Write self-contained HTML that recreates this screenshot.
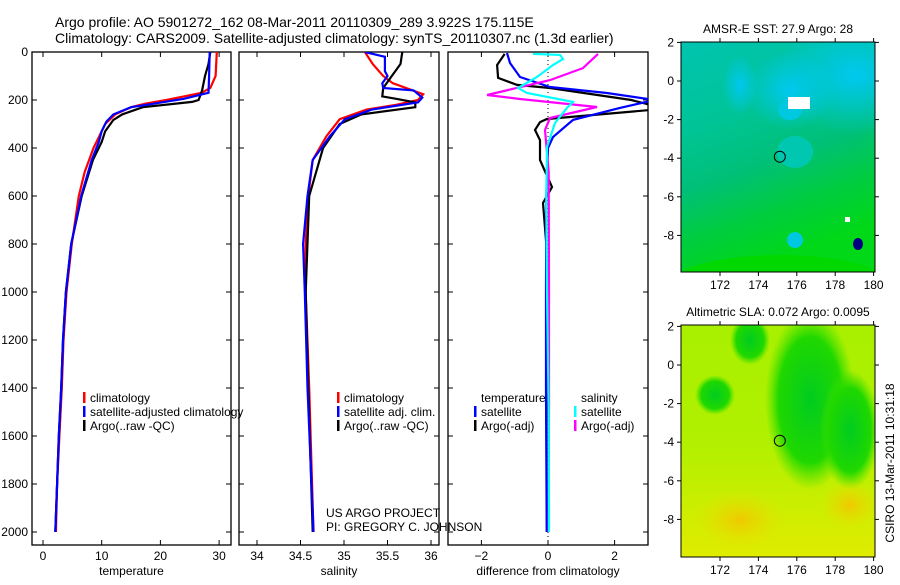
<!DOCTYPE html>
<html><head><meta charset="utf-8"><style>
body{margin:0;background:#fff}
svg text{font-family:"Liberation Sans",sans-serif;fill:#000}
</style></head><body>
<svg id="s" width="900" height="580" viewBox="0 0 900 580">
<defs>
<linearGradient id="sstg" x1="0" y1="0" x2="0.3" y2="1">
<stop offset="0" stop-color="#00c4b0"/><stop offset="0.35" stop-color="#00c498"/><stop offset="0.6" stop-color="#00c078"/><stop offset="0.8" stop-color="#00cc40"/><stop offset="1" stop-color="#00d818"/></linearGradient>
<radialGradient id="cyanblob" cx="0.5" cy="0.5" r="0.5"><stop offset="0" stop-color="#00c8f0"/><stop offset="1" stop-color="#00c8f0" stop-opacity="0"/></radialGradient>
<linearGradient id="slag" x1="0" y1="0" x2="0" y2="1">
<stop offset="0" stop-color="#a8f000"/><stop offset="0.5" stop-color="#b0f000"/><stop offset="1" stop-color="#e0ec00"/></linearGradient>
<radialGradient id="greenblob" cx="0.5" cy="0.5" r="0.5"><stop offset="0" stop-color="#00cc20"/><stop offset="0.7" stop-color="#20d800"/><stop offset="1" stop-color="#40e000" stop-opacity="0"/></radialGradient>
<radialGradient id="orblob" cx="0.5" cy="0.5" r="0.5"><stop offset="0" stop-color="#f0c800"/><stop offset="1" stop-color="#e8e000" stop-opacity="0"/></radialGradient>
<clipPath id="c1"><rect x="32" y="52" width="199" height="493"/></clipPath>
<clipPath id="c2"><rect x="239" y="52" width="200" height="493"/></clipPath>
<clipPath id="c3"><rect x="448" y="52" width="200" height="493"/></clipPath>
<clipPath id="cm1"><rect x="681" y="42" width="194" height="230"/></clipPath>
<clipPath id="cm2"><rect x="681" y="325" width="194" height="232"/></clipPath>
</defs>
<text x="55" y="27" font-size="14">Argo profile: AO 5901272_162 08-Mar-2011 20110309_289 3.922S 175.115E</text>
<text x="55" y="43" font-size="14">Climatology: CARS2009. Satellite-adjusted climatology: synTS_20110307.nc (1.3d earlier)</text>
<g id="g"></g>
</svg>
<script>
// depth grid
const depthTicks=[0,200,400,600,800,1000,1200,1400,1600,1800,2000];
// temperature panel
const tempTicks=[0,10,20,30];
const tClimD=[0,100,150,170,185,200,215,230,260,300,350,400,500,600,800,1000,1200,1400,1600,1800,2000];
const tClimV=[29.6,29.4,28.5,27,24,21,17.5,15,12.3,10.6,9.6,8.6,7.1,6.1,4.9,4.0,3.5,3.2,2.8,2.4,2.2];
const tSatD=[0,100,170,180,195,215,230,260,290,330,375,450,600,800,1000,1200,1400,1600,1800,2000];
const tSatV=[28.4,28.3,28.2,26.5,24,19,15,12,10.8,10,9.5,8.3,6.5,4.8,3.9,3.4,3.1,2.7,2.4,2.1];
const tArgD=[0,50,100,160,200,208,230,260,283,330,375,450,600,800,1000,1200,1400,1600,1800,2000];
const tArgV=[28.5,28.2,27.6,27.1,26.5,25.4,17,13.5,12,10.6,10,8.5,6.6,4.8,3.9,3.4,3.1,2.7,2.4,2.1];
// salinity panel
const salTicks=[34,34.5,35,35.5,36];
const sClimD=[0,50,100,130,176,200,220,240,280,350,450,600,800,1000,1400,2000];
const sClimV=[35.24,35.33,35.45,35.56,35.91,35.85,35.6,35.26,34.95,34.8,34.64,34.59,34.56,34.56,34.6,34.65];
const sSatD=[0,20,80,100,130,150,160,190,210,240,280,350,450,600,800,1000,1400,2000];
const sSatV=[35.24,35.47,35.47,35.5,35.44,35.45,35.8,35.9,35.85,35.32,35.01,34.84,34.64,34.58,34.53,34.55,34.58,34.65];
const sArgD=[0,50,100,150,185,195,210,230,260,300,400,600,1000,1400,2000];
const sArgV=[35.67,35.65,35.55,35.45,35.44,35.6,35.82,35.82,35.2,34.95,34.76,34.6,34.56,34.59,34.64];
// difference panel
const dTicks=[-2,0,2];
const dTSatD=[4,46,104,146,171,200,233,283,354,400,600,1000,1400,2000];
const dTSatV=[-1.23,-1.14,-0.84,0.06,1.77,3.2,2.16,0.75,0.15,0,-0.05,-0.06,-0.06,-0.04];
const dTArgD=[8,54,108,137,150,200,225,240,279,292,325,367,450,563,629,800,1000,1400,2000];
const dTArgV=[-1.3,-1.53,-1.5,-0.93,0.06,2.5,3.2,3.2,-0.03,-0.24,-0.39,-0.24,-0.24,0.12,-0.15,-0.05,-0.03,-0.05,-0.03];
const dSArgD=[8,67,117,179,196,229,275,325,500,1000,1500,2000];
const dSArgV=[1.5,1.05,0.06,-1.83,-0.84,1.47,0.06,-0.09,0.02,0.03,0.03,0.02];
const dSSatD=[8,12,29,54,104,150,171,208,233,296,396,600,1000,1500,2000];
const dSSatV=[-0.45,0.36,0.45,0.15,-0.33,-0.9,-0.63,0.75,0.57,0.21,-0.03,-0.05,-0.03,0.02,0.03];
// map ticks
const lonTicks=[172,174,176,178,180];
const latTicks=[2,0,-2,-4,-6,-8];
const argoLon=175.115, argoLat=-3.922;

const NS='http://www.w3.org/2000/svg';
const G=document.getElementById('g');
function mk(tag,at,parent){const e=document.createElementNS(NS,tag);for(const k in at)e.setAttribute(k,at[k]);(parent||G).appendChild(e);return e;}
const yD=d=>52+d*0.24;
const xT=t=>43+t*5.87;
const xS=s=>257+(s-34)*87;
const xDf=v=>548+v*33.3;
const mx=l=>720+(l-172)*19.2;
const my1=l=>81-l*19.3;
const my2=l=>365-l*19.3;

function line(D,V,fx,col,clip,name){
  let p=D.map((d,i)=>(i?'L':'M')+fx(V[i]).toFixed(1)+' '+yD(d).toFixed(1)).join('');
  const e=mk('path',{d:p,fill:'none',stroke:col,'stroke-width':2.2,'clip-path':'url(#'+clip+')'});
  
  
}
function frame(x0,x1,ticksX,fx,fmt,label,name,left){
  const r=mk('rect',{x:x0,y:52,width:x1-x0,height:493,fill:'none',stroke:'#000','stroke-width':1.3});
  
  
  ticksX.forEach(t=>{const x=fx(t);
    mk('line',{x1:x,x2:x,y1:52,y2:57,stroke:'#000'});
    mk('line',{x1:x,x2:x,y1:545,y2:540,stroke:'#000'});
    const tx=mk('text',{x:x,y:560,'font-size':12,'text-anchor':'middle'});tx.textContent=fmt(t);
    
    
  });
  depthTicks.forEach(d=>{const y=yD(d);
    mk('line',{x1:x0,x2:x0+5,y1:y,y2:y,stroke:'#000'});
    mk('line',{x1:x1,x2:x1-5,y1:y,y2:y,stroke:'#000'});
    if(left){const tx=mk('text',{x:28,y:y+4,'font-size':12,'text-anchor':'end'});tx.textContent=d;
      
      }
  });
  const l=mk('text',{x:(x0+x1)/2,y:575,'font-size':12,'text-anchor':'middle'});l.textContent=label;
  
  
}
function legend(x,y,items,name){
  items.forEach((it,i)=>{
    if(it[1]){const b=mk('rect',{x:x,y:y+i*14-10,width:2.5,height:11,fill:it[1]});
      
      }
    const t=mk('text',{x:x+7,y:y+i*14,'font-size':12});t.textContent=it[0];
    
    
  });
}
// panel 1
frame(32,231,tempTicks,xT,String,'temperature','temperature-panel',true);
line(tClimD,tClimV,xT,'#f00','c1','temp-climatology-line');
line(tArgD,tArgV,xT,'#000','c1','temp-argo-line');
line(tSatD,tSatV,xT,'#00f','c1','temp-satellite-line');
legend(83,402,[['climatology','#f00'],['satellite-adjusted climatology','#00f'],['Argo(..raw -QC)','#000']],'temp-legend');
// panel 2
frame(239,439,salTicks,xS,String,'salinity','salinity-panel',false);
line(sClimD,sClimV,xS,'#f00','c2','sal-climatology-line');
line(sArgD,sArgV,xS,'#000','c2','sal-argo-line');
line(sSatD,sSatV,xS,'#00f','c2','sal-satellite-line');
legend(337,402,[['climatology','#f00'],['satellite adj. clim.','#00f'],['Argo(..raw -QC)','#000']],'sal-legend');
let t1=mk('text',{x:326,y:517,'font-size':12});t1.textContent='US ARGO PROJECT';


let t2=mk('text',{x:326,y:531,'font-size':12});t2.textContent='PI: GREGORY C. JOHNSON';


// panel 3
frame(448,648,dTicks,xDf,t=>t<0?'\u2212'+(-t):String(t),'difference from climatology','diff-panel',false);
mk('line',{x1:xDf(0),x2:xDf(0),y1:52,y2:545,stroke:'#000','stroke-dasharray':'1 3'});
line(dTArgD,dTArgV,xDf,'#000','c3','diff-temp-argo-line');
line(dTSatD,dTSatV,xDf,'#00f','c3','diff-temp-satellite-line');
line(dSArgD,dSArgV,xDf,'#f0f','c3','diff-sal-argo-line');
line(dSSatD,dSSatV,xDf,'#0ff','c3','diff-sal-satellite-line');
legend(474,402,[['temperature',null],['satellite','#00f'],['Argo(-adj)','#000']],'diff-temp-legend');
legend(574,402,[['salinity',null],['satellite','#0ff'],['Argo(-adj)','#f0f']],'diff-sal-legend');

// maps
function map(y0,y1,my,title,name,bg,blobs,clip){
  const g=mk('g',{'clip-path':'url(#'+clip+')'});
  mk('rect',{x:681,y:y0,width:194,height:y1-y0,fill:bg},g);
  blobs.forEach(b=>mk('ellipse',{cx:b[0],cy:b[1],rx:b[2],ry:b[3],fill:b[4]},g));
  const r=mk('rect',{x:681,y:y0,width:194,height:y1-y0,fill:'none',stroke:'#000'});
  
  
  lonTicks.forEach(l=>{const x=mx(l);mk('line',{x1:x,x2:x,y1:y1,y2:y1+4,stroke:'#000'});mk('line',{x1:x,x2:x,y1:y0,y2:y0-4,stroke:'#000'});
    const t=mk('text',{x:x,y:y1+17,'font-size':12,'text-anchor':'middle'});t.textContent=l;
    
    });
  latTicks.forEach(l=>{const y=my(l);mk('line',{x1:677,x2:681,y1:y,y2:y,stroke:'#000'});mk('line',{x1:875,x2:879,y1:y,y2:y,stroke:'#000'});
    const t=mk('text',{x:674,y:y+4,'font-size':12,'text-anchor':'end'});t.textContent=l<0?'-'+(-l):l;
    
    });
  const c=mk('circle',{cx:mx(argoLon),cy:my(argoLat),r:5.5,fill:'none',stroke:'#000'});
  
  
  const t=mk('text',{x:778,y:y0-9,'font-size':12,'text-anchor':'middle'});t.textContent=title;
  
  
}
map(42,272,my1,'AMSR-E SST: 27.9 Argo: 28','sst-map','url(#sstg)',
 [[855,75,80,60,'url(#cyanblob)'],[790,90,45,40,'url(#cyanblob)'],[790,110,12,10,'#00c8e0'],[740,85,18,30,'url(#cyanblob)'],[795,152,18,16,'#00c8b0'],[795,240,8,8,'#00c8e0'],[858,244,5,6,'#000080'],[780,285,110,30,'#00d800']],'cm1');
// white gaps
mk('rect',{x:788,y:97,width:22,height:12,fill:'#fff'});
mk('rect',{x:845,y:217,width:5,height:5,fill:'#fff'});
map(325,557,my2,'Altimetric SLA: 0.072 Argo: 0.0095','sla-map','url(#slag)',
 [[810,400,45,90,'url(#greenblob)'],[750,340,20,25,'url(#greenblob)'],[715,395,20,20,'url(#greenblob)'],[850,430,30,60,'url(#greenblob)'],[740,520,45,30,'url(#orblob)'],[850,505,30,25,'url(#orblob)']],'cm2');
const cs=mk('text',{x:0,y:0,'font-size':12,'text-anchor':'middle',transform:'translate(894,463) rotate(-90)'});cs.textContent='CSIRO 13-Mar-2011 10:31:18';


</script>
</body></html>
